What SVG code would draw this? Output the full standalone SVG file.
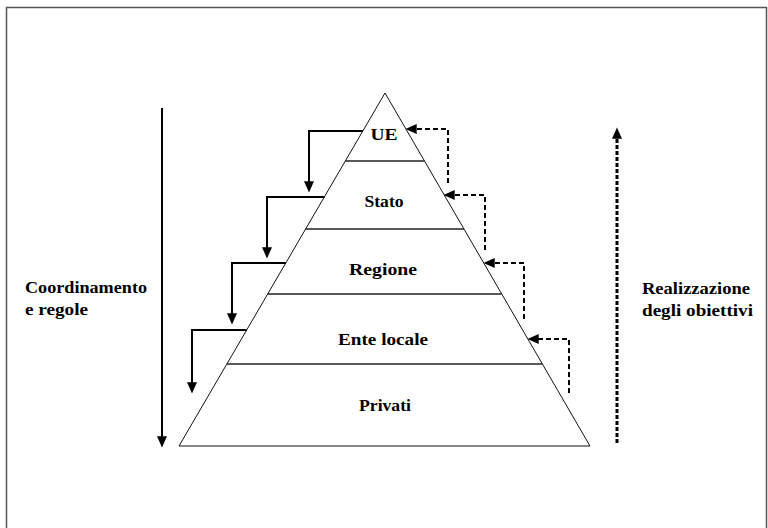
<svg xmlns="http://www.w3.org/2000/svg" width="768" height="528" viewBox="0 0 768 528">
<style>
.t{font-family:"Liberation Serif","Times New Roman",serif;font-weight:bold;font-size:17px;fill:#000}
.c{text-anchor:middle}
.lvl{stroke:#222;stroke-width:1.3;fill:none}
.sol{stroke:#000;stroke-width:2;fill:none;marker-end:url(#ah)}
.dsh{stroke:#000;stroke-width:2;fill:none;stroke-dasharray:5 3;marker-end:url(#ah)}
.dot{stroke:#000;stroke-width:3;fill:none;stroke-dasharray:4 2;marker-end:url(#ah)}
</style>
<defs>
<marker id="ah" markerUnits="userSpaceOnUse" markerWidth="12" markerHeight="10" viewBox="0 0 10 9" refX="6" refY="4.5" orient="auto">
<path d="M0,0 L10,4.5 L0,9 z" fill="#000"/>
</marker>
</defs>
<rect width="768" height="528" fill="#fff"/>
<path d="M6.5,528 V7.5 H766.5 V528" fill="none" stroke="#555" stroke-width="1.5"/>
<g id="pyramid">
<polygon points="385,93 590,446 179,446" fill="#fff" stroke="#111" stroke-width="1"/>
</g>
<g id="ue">
<line class="lvl" x1="345.3" y1="161" x2="424.5" y2="161"/>
<text class="t c" x="384" y="140" textLength="27" lengthAdjust="spacingAndGlyphs">UE</text>
</g>
<g id="stato">
<line class="lvl" x1="305.6" y1="229" x2="464" y2="229"/>
<text class="t c" x="384" y="207" textLength="39" lengthAdjust="spacingAndGlyphs">Stato</text>
</g>
<g id="regione">
<line class="lvl" x1="267.7" y1="294" x2="501.7" y2="294"/>
<text class="t c" x="383" y="275" textLength="68" lengthAdjust="spacingAndGlyphs">Regione</text>
</g>
<g id="ente-locale">
<line class="lvl" x1="226.8" y1="364" x2="542.4" y2="364"/>
<text class="t c" x="383" y="345" textLength="90" lengthAdjust="spacingAndGlyphs">Ente locale</text>
</g>
<g id="privati">
<text class="t c" x="385" y="411" textLength="52" lengthAdjust="spacingAndGlyphs">Privati</text>
</g>
<g id="coordinamento">
<text class="t" x="25" y="293" textLength="122" lengthAdjust="spacingAndGlyphs">Coordinamento</text>
<text class="t" x="25" y="315" textLength="63" lengthAdjust="spacingAndGlyphs">e regole</text>
</g>
<g id="realizzazione">
<text class="t" x="642" y="294" textLength="108" lengthAdjust="spacingAndGlyphs">Realizzazione</text>
<text class="t" x="642" y="316" textLength="111" lengthAdjust="spacingAndGlyphs">degli obiettivi</text>
</g>
<g id="connectors">
<path class="sol" d="M162,108 V443"/>
<path class="sol" d="M363,131 H309 V188"/>
<path class="sol" d="M324.3,197 H267 V254"/>
<path class="sol" d="M285.8,263 H232 V320"/>
<path class="sol" d="M246.7,330 H192 V389"/>
<path class="dsh" d="M448,183 V129 H410"/>
<path class="dsh" d="M485,250 V195 H448"/>
<path class="dsh" d="M524,319 V263 H488"/>
<path class="dsh" d="M569,393 V339 H532"/>
<path class="dot" d="M617,443 V132"/>
</g>
</svg>
